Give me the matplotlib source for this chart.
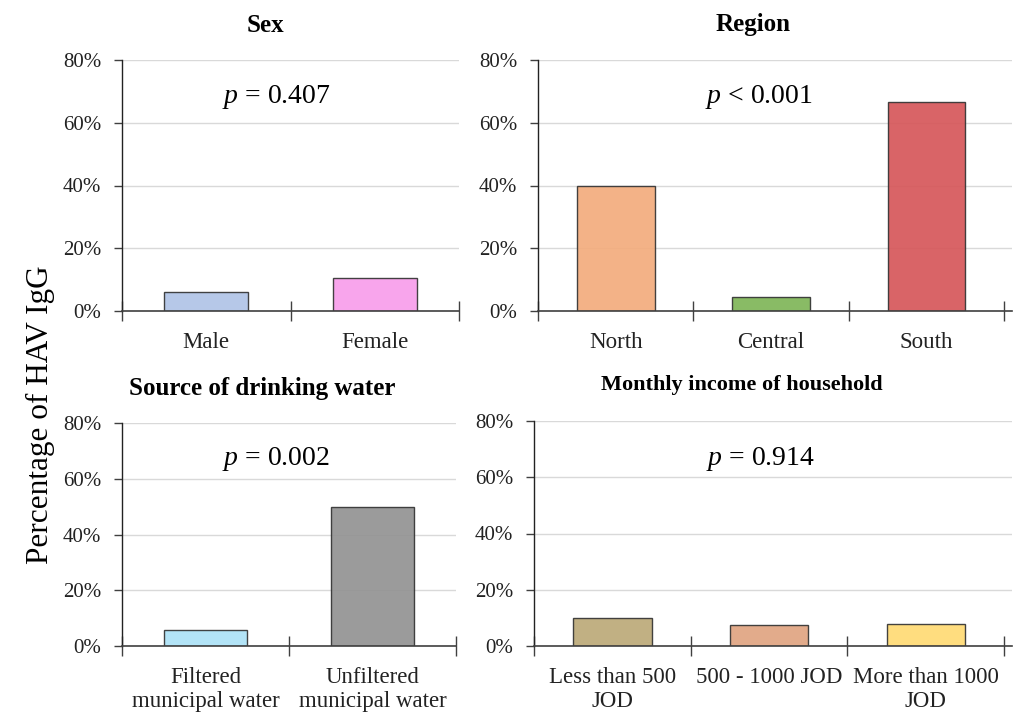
import matplotlib
matplotlib.use("Agg")
import matplotlib.pyplot as plt
import numpy as np

# ---- data ----
sex_labels = ["Male", "Female"]
sex_values = [6.0, 10.5]
sex_colors = ["#B0C4E6", "#F89DEB"]

region_labels = ["North", "Central", "South"]
region_values = [40.0, 4.4, 66.7]
region_colors = ["#F3AC7D", "#7FB658", "#D6575A"]

water_labels = ["Filtered\nmunicipal water", "Unfiltered\nmunicipal water"]
water_values = [5.8, 50.0]
water_colors = ["#ADE2F7", "#939393"]

income_labels = ["Less than 500\nJOD", "500 - 1000 JOD", "More than 1000\nJOD"]
income_values = [9.8, 7.3, 7.7]
income_colors = ["#BCAA78", "#E0A481", "#FFDA74"]

yticks = [0, 20, 40, 60, 80]
ytick_labels = ["0%", "20%", "40%", "60%", "80%"]

panels = [
    dict(title="Sex", labels=sex_labels, values=sex_values, colors=sex_colors, p="= 0.407"),
    dict(title="Region", labels=region_labels, values=region_values, colors=region_colors, p="< 0.001"),
    dict(title="Source of drinking water", labels=water_labels, values=water_values, colors=water_colors, p="= 0.002"),
    dict(title="Monthly income of household", labels=income_labels, values=income_values, colors=income_colors, p="= 0.914"),
]

# ---- layout (pixels) ----
W, H = 1013, 717
DPI = 100
plt.rcParams['font.family'] = ['Liberation Serif', 'DejaVu Serif']
plt.rcParams['mathtext.fontset'] = 'custom'
plt.rcParams['mathtext.rm'] = 'Liberation Serif'
plt.rcParams['mathtext.it'] = 'Liberation Serif:italic'
fig = plt.figure(figsize=(W / DPI, H / DPI), dpi=DPI)

# (left, right, top, bottom) in pixels; extra = extension of x-range beyond last category
boxes = [
    (122, 459, 60, 311, 0.0),
    (538, 1012, 60, 311, 0.05),
    (122, 456, 423, 646, 0.0),
    (534, 1012, 421, 646, 0.05),
]
title_pos = [(265, 25, 18), (753, 25, 18), (262, 388, 18), (742, 385, 16)]
p_pos = [(276, 97), (759, 97), (276, 459), (760, 459)]

for i, (pn, (l, r, t, b, extra)) in enumerate(zip(panels, boxes)):
    ax = fig.add_axes([l / W, 1 - b / H, (r - l) / W, (b - t) / H])
    n = len(pn["values"])
    x = np.arange(n)
    ax.bar(x, pn["values"], width=0.5, color=pn["colors"], edgecolor="#333333",
           linewidth=1.0, alpha=0.92, zorder=3)
    ax.set_xlim(-0.5, n - 0.5 + extra)
    ax.set_ylim(0, 80)
    ax.set_yticks(yticks)
    ax.set_yticklabels(ytick_labels, fontsize=15, color="#222222")
    ax.set_xticks(x)
    ax.set_xticklabels(pn["labels"], fontsize=16.5, linespacing=1.2, color="#222222")
    ax.set_xticks(np.arange(n + 1) - 0.5, minor=True)
    ax.tick_params(axis="x", which="major", length=0, pad=15)
    ax.tick_params(axis="x", which="minor", length=14, direction="inout", color="#404040", width=1)
    ax.tick_params(axis="y", which="major", length=6, direction="out", color="#404040", width=1, pad=9)
    ax.grid(axis="y", color="#D9D9D9", linewidth=1, zorder=0)
    ax.set_axisbelow(True)
    for s in ["top", "right"]:
        ax.spines[s].set_visible(False)
    ax.spines["left"].set_color("#222222")
    ax.spines["bottom"].set_color("#404040")
    ax.spines["left"].set_linewidth(1)
    ax.spines["bottom"].set_linewidth(1.2)
    ax.spines["left"].set_zorder(4)
    ax.spines["bottom"].set_zorder(4)

    tx, ty, tfs = title_pos[i]
    fig.text(tx / W, 1 - ty / H, pn["title"], ha="center", va="center",
             fontsize=tfs, fontweight="bold")
    px, py = p_pos[i]
    fig.text(px / W, 1 - py / H, r"$\mathit{p}$" + " " + pn["p"], ha="center", va="center",
             fontsize=20)

fig.text(40 / W, 1 - 415 / H, "Percentage of HAV IgG", rotation=90, ha="center",
         va="center", fontsize=22.5)

fig.savefig("out.png", dpi=DPI)
